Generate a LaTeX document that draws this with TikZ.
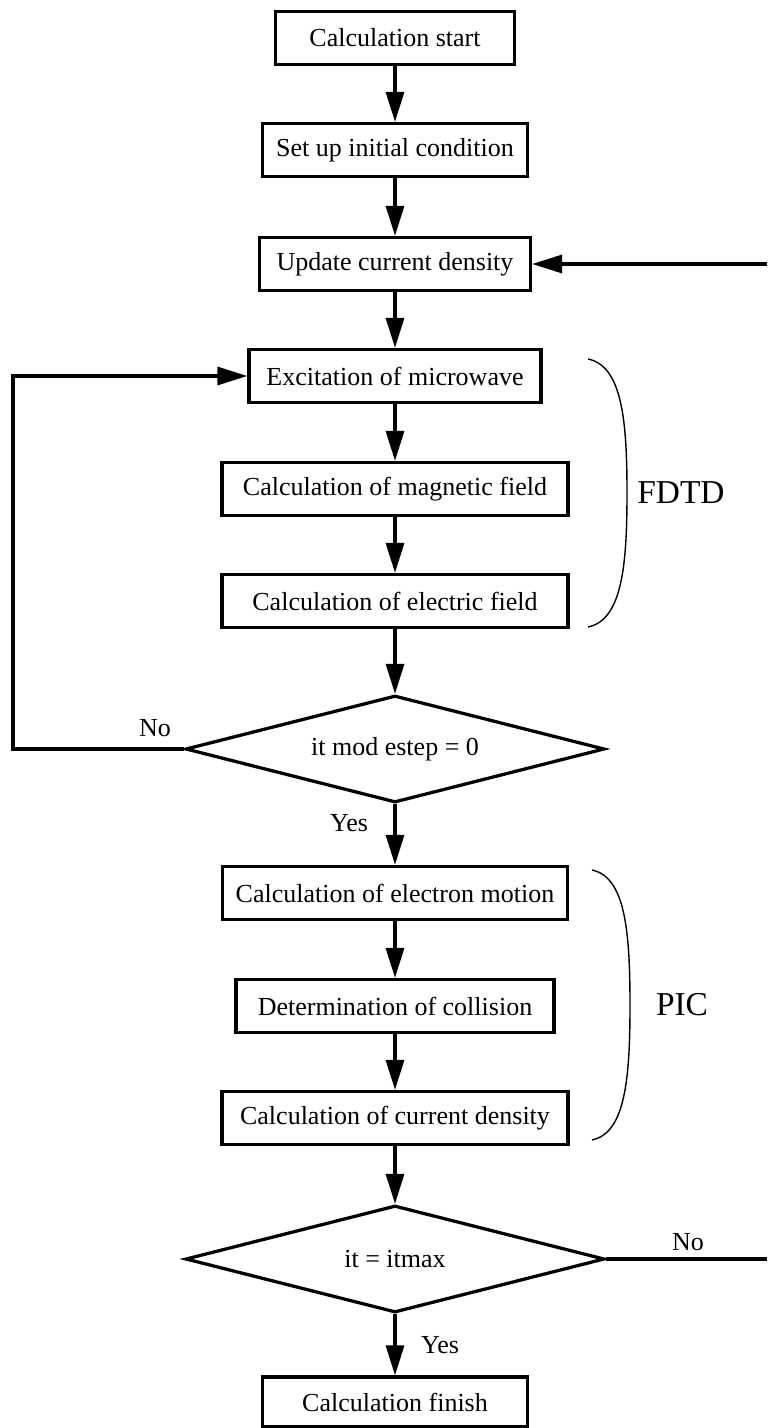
\documentclass[tikz,border=0pt]{standalone}
\usepackage{fontspec}
\setmainfont{Liberation Serif}
\usetikzlibrary{shapes.geometric, arrows.meta}

\tikzset{
  txt/.style={font=\fontsize{14.8}{17}\selectfont},
  blockbox/.style={txt, draw, rectangle, line width=0.65mm, minimum height=10.6mm, inner sep=0pt},
  choice/.style={txt, draw, diamond, aspect=4, line width=0.65mm, minimum width=83.8mm, minimum height=21.4mm, inner sep=0pt},
  flow/.style={line width=0.65mm, -{Triangle[length=6mm, width=3.6mm]}},
  plain/.style={line width=0.65mm},
  brace/.style={line width=0.28mm},
  side/.style={font=\fontsize{19}{22}\selectfont}
}

\begin{document}
\begin{tikzpicture}[x=0.2mm, y=-0.2mm]
\useasboundingbox (0,0) rectangle (767,1428);

\node[blockbox, minimum width=47.8mm] (start) at (395,38) {Calculation start};
\node[blockbox, minimum width=53mm] (setup) at (395,150) {Set up initial condition};
\node[blockbox, minimum width=54.2mm] (update) at (395,264) {Update current density};
\node[blockbox, minimum width=58.4mm] (excite) at (395,376) {Excitation of microwave};
\node[blockbox, minimum width=69.2mm] (magnet) at (395,489) {Calculation of magnetic field};
\node[blockbox, minimum width=69.2mm] (electric) at (395,601) {Calculation of electric field};
\node[choice] (estep) at (395,749) {it mod estep = 0};
\node[blockbox, minimum width=69mm] (motion) at (395,893) {Calculation of electron motion};
\node[blockbox, minimum width=63.6mm] (collide) at (395,1006) {Determination of collision};
\node[blockbox, minimum width=69.2mm] (current) at (395,1118) {Calculation of current density};
\node[choice] (itmax) at (395,1259) {it = itmax};
\node[blockbox, minimum width=53mm, minimum height=10mm] (finish) at (395,1402) {Calculation finish};

\coordinate (loopL) at (13,749);
\coordinate (backR) at (767,264);
\coordinate (outR) at (767,1259);

\draw[flow] (start) -- (setup);
\draw[flow] (setup) -- (update);
\draw[flow] (update) -- (excite);
\draw[flow] (excite) -- (magnet);
\draw[flow] (magnet) -- (electric);
\draw[flow] (electric) -- (estep);
\draw[flow] (estep) -- (motion);
\draw[flow] (motion) -- (collide);
\draw[flow] (collide) -- (current);
\draw[flow] (current) -- (itmax);
\draw[flow] (itmax) -- (finish);
\draw[flow] (estep.west) -- (loopL) |- (excite.west);
\draw[flow] (backR) -- (update.east);
\draw[plain] (itmax.east) -- (outR);

\node[txt] (no1) at (155,728) {No};
\node[txt] (yes1) at (349,823) {Yes};
\node[txt] (no2) at (688,1242) {No};
\node[txt] (yes2) at (440,1345) {Yes};

\draw[brace] (588,359) .. controls (622,366) and (627,420) .. (627,493) .. controls (627,566) and (622,620) .. (588,627);
\node[side] (fdtd) at (681,493) {FDTD};
\draw[brace] (592,870) .. controls (625,877) and (630,930) .. (630,1005) .. controls (630,1080) and (625,1133) .. (592,1140);
\node[side] (pic) at (682,1005) {PIC};
\end{tikzpicture}
\end{document}
